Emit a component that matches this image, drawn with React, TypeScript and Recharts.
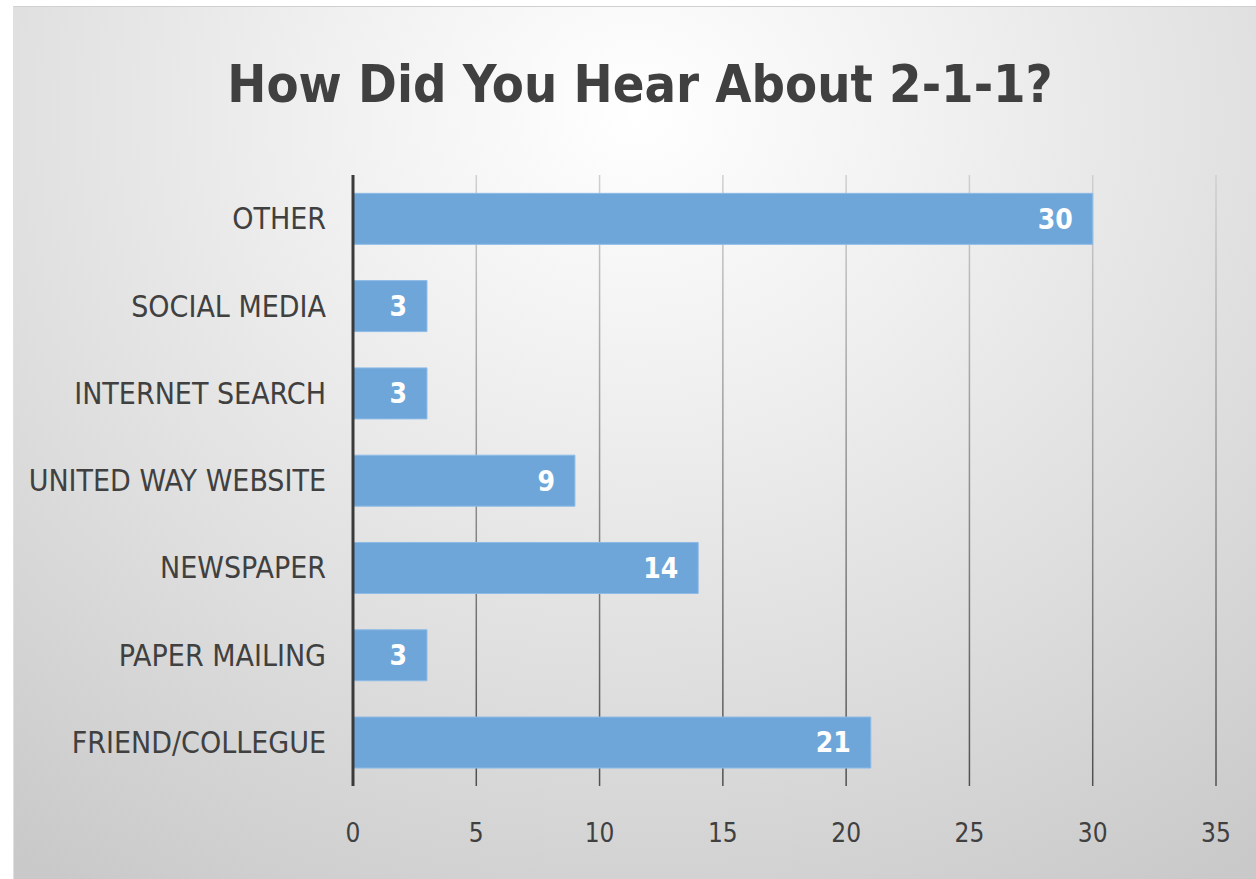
import { BarChart, Bar, XAxis, YAxis, CartesianGrid, LabelList } from 'recharts'

const categories = [
  'OTHER',
  'SOCIAL MEDIA',
  'INTERNET SEARCH',
  'UNITED WAY WEBSITE',
  'NEWSPAPER',
  'PAPER MAILING',
  'FRIEND/COLLEGUE',
]
const counts = [30, 3, 3, 9, 14, 3, 21]
const xTicks = [0, 5, 10, 15, 20, 25, 30, 35]

const data = categories.map((name, i) => ({ name, value: counts[i] }))

const FONT = "'DejaVu Sans Condensed', 'Roboto', sans-serif"
const TEXT = '#404040'

export default function App() {
  return (
    <div style={{ position: 'absolute', left: 0, top: 0, width: 1256, height: 879, background: '#ffffff', overflow: 'hidden' }}>
      {/* chart panel with the soft radial background */}
      <div
        style={{
          position: 'absolute',
          left: 13,
          top: 6,
          width: 1243,
          height: 873,
          borderTop: '1px solid #d0d0d0',
          borderLeft: '1px solid #e0e0e0',
          background: 'radial-gradient(ellipse 85% 105% at 50% 12%, #ffffff 0%, #f0f0f0 30%, #dddddd 65%, #c9c9c9 100%)',
        }}
      />
      <div
        style={{
          position: 'absolute',
          left: 0,
          top: 58,
          width: 1280,
          textAlign: 'center',
          fontFamily: FONT,
          fontWeight: 700,
          fontSize: 52,
          color: TEXT,
          lineHeight: 1,
        }}
      >
        How Did You Hear About 2-1-1?
      </div>
      <div style={{ position: 'absolute', left: 0, top: 0 }}>
        <BarChart
          width={1256}
          height={879}
          data={data}
          layout="vertical"
          margin={{ top: 175, right: 40, bottom: 0, left: 13 }}
          barCategoryGap="21%"
        >
          <defs>
            <linearGradient id="gridStroke" gradientUnits="userSpaceOnUse" x1="0" y1="175" x2="0" y2="786">
              <stop offset="0%" stopColor="#d0d0d0" />
              <stop offset="100%" stopColor="#505050" />
            </linearGradient>
          </defs>
          <CartesianGrid horizontal={false} stroke="url(#gridStroke)" strokeWidth={1.5} />
          <XAxis
            type="number"
            domain={[0, 35]}
            ticks={xTicks}
            axisLine={false}
            tickLine={false}
            height={93}
            tickMargin={32}
            tick={{ fill: TEXT, fontSize: 26, fontFamily: FONT }}
          />
          <YAxis
            type="category"
            dataKey="name"
            width={340}
            axisLine={{ stroke: '#3a3a3a', strokeWidth: 3 }}
            tickLine={false}
            tickMargin={21}
            tick={{ fill: TEXT, fontSize: 30, fontFamily: FONT }}
          />
          <Bar dataKey="value" fill="#6fa6d9" stroke="#8dbbe6" strokeWidth={1} isAnimationActive={false}>
            <LabelList
              dataKey="value"
              position="insideRight"
              offset={20}
              fill="#ffffff"
              style={{ fontSize: 28, fontFamily: FONT, fontWeight: 700 }}
            />
          </Bar>
        </BarChart>
      </div>
    </div>
  )
}
